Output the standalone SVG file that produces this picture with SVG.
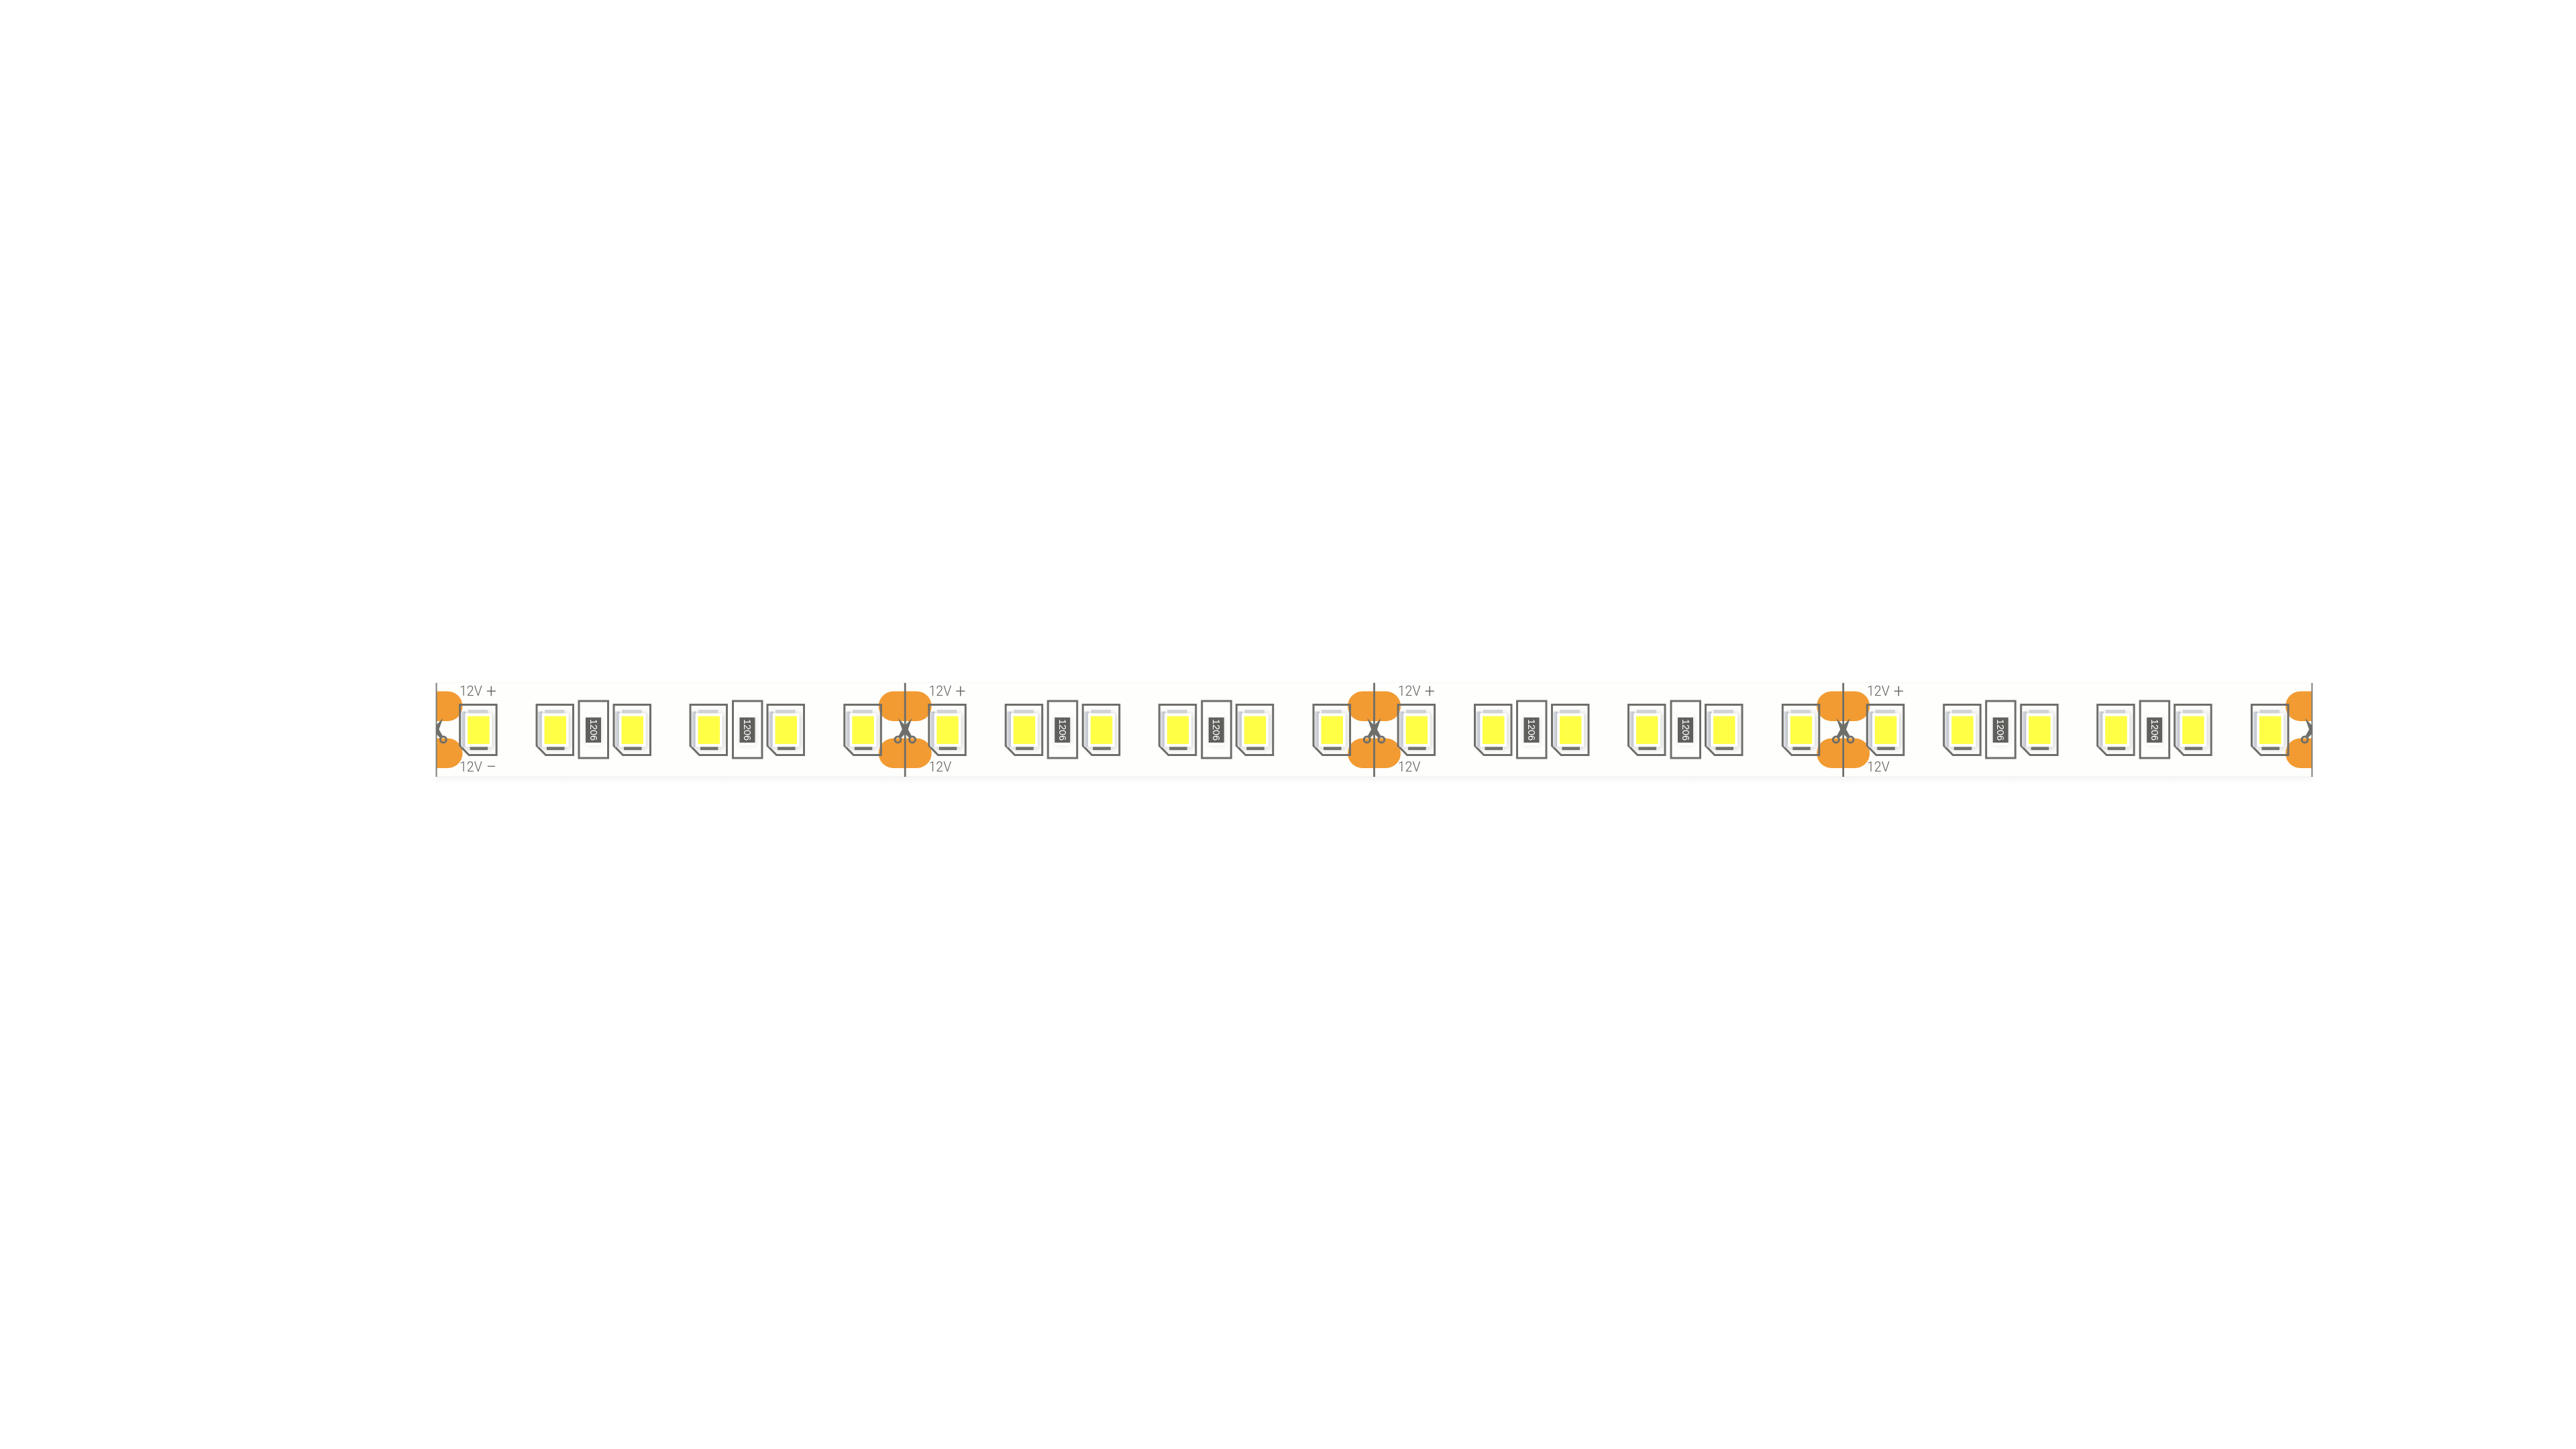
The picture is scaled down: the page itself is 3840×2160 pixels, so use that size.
<svg xmlns="http://www.w3.org/2000/svg" width="3840" height="2160" viewBox="0 0 3840 2160">
<style>
.fr{fill:none;stroke:#6e6e6a;stroke-width:3}
.cut{stroke:#6e6e6a;stroke-width:2.800}
.end{stroke:#7c7c78;stroke-width:2}
.pad{fill:#f29b31}
.lbl{font-family:"Roboto","Liberation Sans",sans-serif;font-weight:300;font-size:19.500px;fill:#5c5c59}
.sym{font-family:"Roboto","Liberation Sans",sans-serif;font-weight:300;font-size:27px;fill:#6e6e6a;text-anchor:middle}
.res{font-family:"Liberation Sans",Arial,sans-serif;font-size:14.500px;fill:#fff;text-anchor:middle}
.sc{fill:#6e6e6a}
.ring{fill:none;stroke:#6e6e6a;stroke-width:3}
</style>
<defs>
<filter id="soft" x="-40%" y="-40%" width="180%" height="180%"><feGaussianBlur stdDeviation="4"/></filter>
<filter id="aa" x="-5%" y="-5%" width="110%" height="110%"><feGaussianBlur stdDeviation="0.550"/></filter>
<linearGradient id="fade" x1="0" y1="0" x2="0" y2="1"><stop offset="0" stop-color="#e2e2e4"/><stop offset="0.12" stop-color="#f7f7f8"/><stop offset="1" stop-color="#ffffff"/></linearGradient>
<linearGradient id="band" x1="0" y1="0" x2="1" y2="0"><stop offset="0" stop-color="#dcdee3"/><stop offset="1" stop-color="#b8bcc5"/></linearGradient>
<clipPath id="strip"><rect x="650" y="1010" width="2797" height="160"/></clipPath>
<g id="led">
<rect x="6" y="12" width="44" height="54" fill="#d6d6d4" filter="url(#soft)"/>
<path class="fr" d="M0 0H54.500V75H13.500L0 61Z"/>
<rect x="2" y="10" width="7" height="53" fill="url(#band)"/>
<rect x="12" y="7.500" width="29.500" height="6" fill="#cfd3d5"/>
<rect x="15" y="62" width="26.500" height="5.500" fill="#73736f"/>
<rect x="7.700" y="12.700" width="40" height="50" fill="#fff"/>
<rect x="11.500" y="17" width="32.500" height="41.500" fill="#ffff45"/>
</g>
<g id="res">
<rect x="11" y="23" width="22" height="42" fill="#dedede" filter="url(#soft)"/>
<rect class="fr" x="0" y="0" width="43.500" height="85"/>
<rect x="10" y="19" width="23" height="47" fill="#fff"/>
<rect x="10" y="24.500" width="23" height="37.500" fill="#5f5e5b"/>
<text class="res" transform="translate(21.500,43) rotate(90)" y="5">1206</text>
</g>
<g id="pads">
<rect class="pad" x="-39.500" y="1030.500" width="79" height="44.500" rx="22"/>
<rect class="pad" x="-39.500" y="1100.500" width="79" height="44.500" rx="22"/>
</g>
<g id="sci">
<path class="sc" d="M10.300 1070.500L3.500 1090L-6 1100L-9.500 1096.500L-2.500 1084Z"/>
<path class="sc" d="M-10.300 1070.500L-3.500 1090L6 1100L9.500 1096.500L2.500 1084Z"/>
<circle class="ring" cx="-10.800" cy="1102.400" r="4.500"/>
<circle class="ring" cx="10.800" cy="1102.400" r="4.500"/>
</g>
<g id="unit">
<use href="#led" x="35.600" y="1050.600"/>
<use href="#led" x="150" y="1050.600"/>
<use href="#res" x="213" y="1045"/>
<use href="#led" x="265" y="1050.600"/>
<use href="#led" x="379" y="1050.600"/>
<use href="#res" x="442.500" y="1045"/>
<use href="#led" x="494" y="1050.600"/>
<use href="#led" x="608.800" y="1050.600"/>
</g>
</defs>
<rect width="3840" height="2160" fill="#fff"/>
<g id="diagram" filter="url(#aa)">
<g id="strip-base">
<rect x="650" y="1157.500" width="2797" height="12" fill="url(#fade)"/>
<rect x="650" y="1018" width="2797" height="139.500" fill="#fefefd"/>
<rect x="650" y="1017" width="2797" height="1" fill="#f8f8f8"/>
</g>
<g id="solder-pads" clip-path="url(#strip)">
<use href="#pads" x="650"/><use href="#pads" x="1349.200"/><use href="#pads" x="2048.500"/><use href="#pads" x="2747.700"/><use href="#pads" x="3446.500"/>
</g>
<g id="components">
<use href="#unit" x="650"/><use href="#unit" x="1349.200"/><use href="#unit" x="2048.500"/>
<g clip-path="url(#strip)"><use href="#unit" x="2747.700"/></g>
</g>
<g id="cuts">
<line class="end" x1="650.500" y1="1018" x2="650.500" y2="1158"/>
<line class="cut" x1="1349.200" y1="1018" x2="1349.200" y2="1158"/>
<line class="cut" x1="2048.500" y1="1018" x2="2048.500" y2="1158"/>
<line class="cut" x1="2747.700" y1="1018" x2="2747.700" y2="1158"/>
<line class="end" x1="3446.500" y1="1018" x2="3446.500" y2="1158"/>
</g>
<g id="scissors" clip-path="url(#strip)">
<use href="#sci" x="650"/><use href="#sci" x="1349.200"/><use href="#sci" x="2048.500"/><use href="#sci" x="2747.700"/><use href="#sci" x="3446.500"/>
</g>
<g id="labels">
<text class="lbl" x="685" y="1037">12V</text><text class="sym" x="732.500" y="1040">+</text>
<text class="lbl" x="685" y="1150">12V</text><text class="sym" x="732.500" y="1152">−</text>
<text class="lbl" x="1384.500" y="1037">12V</text><text class="sym" x="1432" y="1040">+</text>
<text class="lbl" x="1384.500" y="1150">12V</text>
<text class="lbl" x="2083.800" y="1037">12V</text><text class="sym" x="2131.300" y="1040">+</text>
<text class="lbl" x="2083.800" y="1150">12V</text>
<text class="lbl" x="2783" y="1037">12V</text><text class="sym" x="2830.500" y="1040">+</text>
<text class="lbl" x="2783" y="1150">12V</text>
</g>
</g>
</svg>
